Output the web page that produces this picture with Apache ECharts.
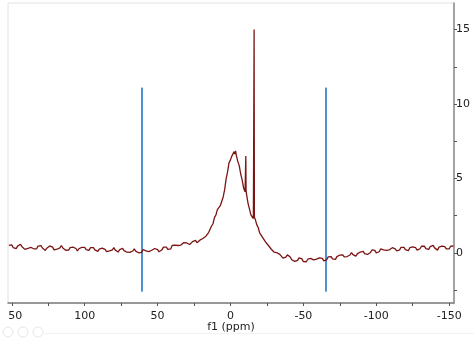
<!DOCTYPE html>
<html>
<head>
<meta charset="utf-8">
<script src="https://cdn.jsdelivr.net/npm/echarts@6/dist/echarts.min.js"></script>
<style>
  html, body { margin: 0; padding: 0; background: #fff; }
  #chart { width: 474px; height: 341px; }
</style>
</head>
<body>
<div id="chart"></div>
<script>
// Chemical shift (ppm) of each sampled point of the f1 spectrum
const shiftPpm = [
  152, 151, 150, 149, 148, 147, 146, 145, 144, 143, 142, 141, 140, 139, 138, 137, 136, 135, 134, 133,
  132, 131, 130, 129, 128, 127, 126, 125, 124, 123, 122, 121, 120, 119, 118, 117, 116, 115, 114, 113,
  112, 111, 110, 109, 108, 107, 106, 105, 104, 103, 102, 101, 100, 99, 98, 97, 96, 95, 94, 93,
  92, 91, 90, 89, 88, 87, 86, 85, 84, 83, 82, 81, 80, 79, 78, 77, 76, 75, 74, 73,
  72, 71, 70, 69, 68, 67, 66, 65, 64, 63, 62, 61, 60, 59, 58, 57, 56, 55, 54, 53,
  52, 51, 50, 49, 48, 47, 46, 45, 44, 43, 42, 41, 40, 39, 38, 37, 36, 35, 34, 33,
  32, 31, 30, 29, 28, 27, 26, 25, 24, 23,
  22, 21, 20, 19, 18, 17, 16, 15, 14, 13, 12, 11, 10, 9, 8, 7, 6, 5, 4, 3, 2, 1, 0,
  -1, -2, -2.5, -3, -3.5, -4, -4.5, -5, -6, -7, -8, -9, -10, -10.3, -10.5, -10.7, -11,
  -12, -13, -14, -15, -15.7, -16.0, -16.2, -16.4, -17, -18, -19, -20, -21, -22, -23,
  -24, -25, -26, -27, -28, -29, -30,
  -31, -32, -33, -34, -35, -36, -37, -38, -39, -40, -41, -42, -43, -44, -45, -46, -47, -48, -49, -50,
  -51, -52, -53, -54, -55, -56, -57, -58, -59, -60, -61, -62, -63, -64, -65, -66, -67, -68, -69, -70,
  -71, -72, -73, -74, -75, -76, -77, -78, -79, -80, -81, -82, -83, -84, -85, -86, -87, -88, -89, -90,
  -91, -92, -93, -94, -95, -96, -97, -98, -99, -100, -101, -102, -103, -104, -105, -106, -107, -108, -109, -110,
  -111, -112, -113, -114, -115, -116, -117, -118, -119, -120, -121, -122, -123, -124, -125, -126, -127, -128, -129, -130,
  -131, -132, -133, -134, -135, -136, -137, -138, -139, -140, -141, -142, -143, -144, -145, -146, -147, -148, -149, -150,
  -151, -152, -153
];

// Signal intensity at each shift
const intensity = [
  0.51, 0.47, 0.54, 0.35, 0.35, 0.29, 0.46, 0.43, 0.58, 0.42, 0.40, 0.24, 0.34, 0.30, 0.41, 0.38, 0.45, 0.28, 0.31, 0.28,
  0.46, 0.41, 0.49, 0.33, 0.31, 0.17, 0.32, 0.29, 0.47, 0.40, 0.39, 0.21, 0.30, 0.25, 0.37, 0.34, 0.50, 0.34, 0.34, 0.18,
  0.26, 0.19, 0.36, 0.31, 0.39, 0.27, 0.30, 0.13, 0.28, 0.24, 0.37, 0.29, 0.38, 0.22, 0.20, 0.17, 0.36, 0.32, 0.36, 0.21,
  0.24, 0.11, 0.25, 0.21, 0.32, 0.20, 0.24, 0.09, 0.18, 0.14, 0.26, 0.21, 0.36, 0.19, 0.17, 0.06, 0.23, 0.19, 0.30, 0.16,
  0.21, 0.05, 0.11, 0.04, 0.14, 0.13, 0.27, 0.12, 0.17, 0.01, 0.08, 0.04, 0.23, 0.15, 0.14, 0.01, 0.09, 0.04, 0.18, 0.16,
  0.30, 0.17, 0.22, 0.08, 0.21, 0.21, 0.39, 0.29, 0.39, 0.24, 0.30, 0.27, 0.50, 0.48, 0.52, 0.40, 0.50, 0.38, 0.53, 0.52,
  0.70, 0.60, 0.67, 0.54, 0.57, 0.57, 0.76, 0.73, 0.85, 0.69,
  0.71, 0.86, 0.81, 0.97, 0.93, 1.11, 1.11, 1.37, 1.45, 1.81, 1.96, 2.37, 2.55, 2.91, 3.01, 3.17,
  3.30, 3.76, 4.25, 4.97, 5.44, 6.06, 6.25,
  6.52, 6.56, 6.80, 6.64, 6.85, 6.55, 6.51, 6.15, 5.86, 5.30, 4.91, 4.35, 4.10, 4.00, 6.50, 4.15, 3.95,
  3.35, 2.96, 2.56, 2.50, 2.31, 2.30, 15.0, 2.40, 2.25, 1.90, 1.71, 1.35, 1.31, 1.05, 1.01,
  0.75, 0.74, 0.50, 0.48, 0.25, 0.24, 0.05,
  0.07, 0.01, 0.10, -0.11, -0.19, -0.35, -0.23, -0.28, -0.13, -0.23, -0.27, -0.46, -0.41, -0.57, -0.49, -0.50, -0.33, -0.41, -0.40, -0.58,
  -0.52, -0.59, -0.42, -0.46, -0.37, -0.50, -0.46, -0.59, -0.42, -0.45, -0.33, -0.44, -0.37, -0.53, -0.49, -0.46, -0.26, -0.29, -0.25, -0.40,
  -0.32, -0.43, -0.25, -0.27, -0.14, -0.18, -0.13, -0.27, -0.18, -0.24, -0.12, -0.14, 0.03, -0.11, -0.13, -0.21, -0.06, -0.09, 0.06, 0.02,
  0.11, -0.04, 0.02, -0.10, 0.03, 0.03, 0.20, 0.09, 0.17, 0.01, 0.10, 0.08, 0.27, 0.21, 0.21, 0.09, 0.17, 0.05, 0.21, 0.19,
  0.35, 0.24, 0.28, 0.13, 0.21, 0.21, 0.38, 0.32, 0.38, 0.22, 0.22, 0.15, 0.35, 0.32, 0.40, 0.30, 0.35, 0.19, 0.30, 0.28,
  0.45, 0.39, 0.46, 0.29, 0.29, 0.24, 0.43, 0.40, 0.51, 0.34, 0.33, 0.19, 0.39, 0.37, 0.46, 0.38, 0.42, 0.28, 0.32, 0.28,
  0.45, 0.41, 0.48
];

// Integration / region markers drawn as vertical bars
const markerPpm = [60.7, -65.5];
const markerRange = [-2.6, 11.1];

// Axis ticks and labels
const xLabelValues = [150, 100, 50, 0, -50, -100, -150];
const xTickValues = [150, 125, 100, 75, 50, 25, 0, -25, -50, -75, -100, -125, -150];
const yLabelValues = [0, 5, 10, 15];
const yTickValues = [-2.5, 0, 2.5, 5, 7.5, 10, 12.5, 15];

const spectrum = shiftPpm.map((p, i) => [p, intensity[i]]);

const markerSeries = markerPpm.map((p) => ({
  type: 'line',
  data: [[p, markerRange[0]], [p, markerRange[1]]],
  showSymbol: false,
  silent: true,
  lineStyle: { color: '#4f91d0', width: 2 },
  z: 3
}));

const font = 'DejaVu Sans';
const chart = echarts.init(document.getElementById('chart'), null, { renderer: 'canvas' });

chart.setOption({
  animation: false,
  backgroundColor: '#ffffff',
  grid: {
    left: 8, right: 20, top: 3, bottom: 38,
    containLabel: false,
    outerBoundsMode: 'none',
    show: true, borderColor: '#e2e2e2', borderWidth: 1, backgroundColor: 'transparent'
  },
  xAxis: {
    type: 'value',
    inverse: true,
    min: -153.3,
    max: 152.6,
    position: 'bottom',
    name: 'f1 (ppm)',
    nameLocation: 'middle',
    nameGap: 19,
    nameMoveOverlap: false,
    nameTextStyle: { fontFamily: font, fontSize: 11, color: '#222' },
    axisLine: { show: true, onZero: false, lineStyle: { color: '#7a7a7a', width: 1.5 } },
    axisTick: { show: true, customValues: xTickValues, length: 3, lineStyle: { color: '#555' } },
    axisLabel: {
      customValues: xLabelValues,
      fontFamily: font, fontSize: 11, color: '#222', margin: 8
    },
    splitLine: { show: false }
  },
  yAxis: {
    type: 'value',
    position: 'right',
    min: -3.36,
    max: 16.78,
    axisLine: { show: true, onZero: false, lineStyle: { color: '#8a8a8a', width: 1.5 } },
    axisTick: { show: true, customValues: yTickValues, length: 3, lineStyle: { color: '#555' } },
    axisLabel: {
      customValues: yLabelValues,
      fontFamily: font, fontSize: 11, color: '#222', margin: 2
    },
    splitLine: { show: false }
  },
  series: [
    {
      type: 'line',
      data: spectrum,
      showSymbol: false,
      silent: true,
      lineStyle: { color: '#7c1414', width: 1.3 },
      z: 4
    },
    ...markerSeries
  ],
  graphic: [
    // plot frame clips the leftmost tick label
    { type: 'rect', z: 100, shape: { x: 0, y: 305, width: 8.5, height: 17 }, style: { fill: '#ffffff' } },
    // toolbar strip at the bottom
    { type: 'line', z: 1, shape: { x1: 44, y1: 333.5, x2: 474, y2: 333.5 }, style: { stroke: '#f2f2f2', lineWidth: 1 } },
    { type: 'circle', z: 1, shape: { cx: 8, cy: 332, r: 5 }, style: { fill: 'none', stroke: '#e6e6e6', lineWidth: 1 } },
    { type: 'circle', z: 1, shape: { cx: 23, cy: 332, r: 5 }, style: { fill: 'none', stroke: '#e6e6e6', lineWidth: 1 } },
    { type: 'circle', z: 1, shape: { cx: 38, cy: 332, r: 5 }, style: { fill: 'none', stroke: '#e6e6e6', lineWidth: 1 } }
  ]
});
</script>
</body>
</html>
